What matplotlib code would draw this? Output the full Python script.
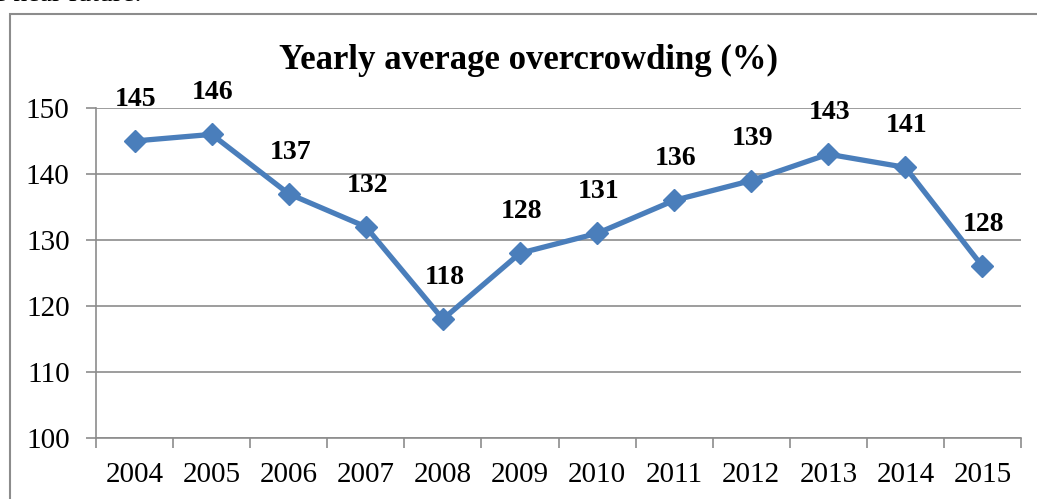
import numpy as np
import matplotlib.pyplot as plt
from matplotlib.patches import Rectangle

years = ['2004', '2005', '2006', '2007', '2008', '2009',
         '2010', '2011', '2012', '2013', '2014', '2015']
overcrowding = [145, 146, 137, 132, 118, 128, 131, 136, 139, 143, 141, 126]
point_labels = ['145', '146', '137', '132', '118', '128',
                '131', '136', '139', '143', '141', '128']

plt.rcParams['font.family'] = ['Liberation Serif', 'DejaVu Serif']

fig = plt.figure(figsize=(10.37, 4.99), dpi=100)
ax = fig.add_axes([0.0926, 0.1222, 0.892, 0.6614])

# chart frame from the source document
fig.patches.append(Rectangle((10 / 1037, -0.05), 1.1, 1 - 14 / 499 + 0.05,
                             transform=fig.transFigure, fill=False,
                             edgecolor='#8c8c8c', linewidth=1.5))
fig.text(-0.006, 1.012, 'e near future.', fontsize=20, ha='left', va='center')

x = np.arange(len(years))
color = '#4a7ebb'
ax.plot(x, overcrowding, color=color, linewidth=3.8, marker='D',
        markersize=11, markeredgecolor=color, markerfacecolor=color)

for xi, yi, lab in zip(x, overcrowding, point_labels):
    ax.annotate(lab, (xi, yi), xytext=(1, 30), textcoords='offset points',
                ha='center', va='center', fontsize=20, fontweight='bold')

ax.set_xlim(-0.5, len(x) - 0.5)
ax.set_ylim(100, 150)
ax.set_yticks(range(100, 151, 10))
ax.set_xticks(x)
ax.set_xticklabels(years)
ax.set_xticks(np.arange(-0.5, len(x), 1), minor=True)
ax.tick_params(axis='x', which='major', length=0, pad=17, labelsize=21)
ax.tick_params(axis='x', which='minor', length=7, color='#8c8c8c', width=1.2)
ax.tick_params(axis='y', length=7, color='#8c8c8c', width=1.2, labelsize=21, pad=12)
ax.grid(axis='y', color='#8c8c8c', linewidth=1.2)
ax.set_axisbelow(True)
for side in ['top', 'right']:
    ax.spines[side].set_visible(False)
for side in ['left', 'bottom']:
    ax.spines[side].set_color('#8c8c8c')
    ax.spines[side].set_linewidth(1.2)

fig.text(0.51, 0.879, 'Yearly average overcrowding (%)', ha='center',
         va='center', fontsize=25, fontweight='bold')

plt.savefig('out.png', dpi=100)
